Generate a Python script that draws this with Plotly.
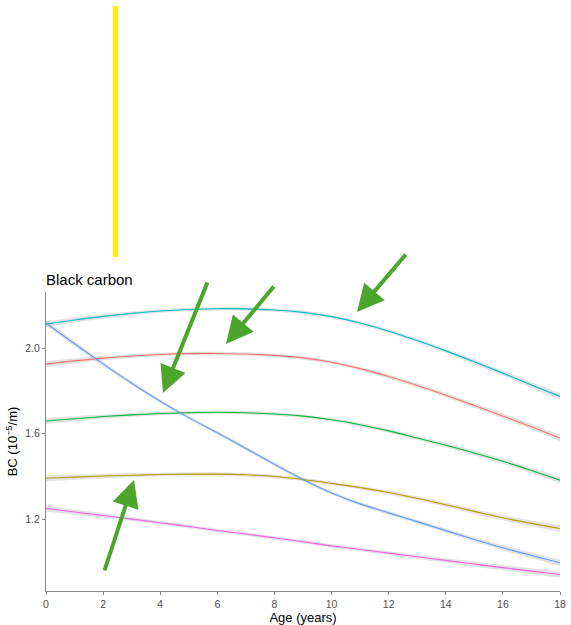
import plotly.graph_objects as go

# ---- data ----
ages = list(range(0, 19))
series_names = ["red", "olive", "green", "cyan", "blue", "pink"]
bc_red = [1.925, 1.940, 1.953, 1.963, 1.970, 1.974, 1.975, 1.972, 1.966, 1.954,
          1.934, 1.904, 1.867, 1.825, 1.780, 1.732, 1.683, 1.632, 1.580]
bc_olive = [1.392, 1.397, 1.402, 1.406, 1.409, 1.411, 1.411, 1.408, 1.400, 1.386,
            1.368, 1.348, 1.325, 1.298, 1.268, 1.237, 1.207, 1.181, 1.157]
bc_green = [1.659, 1.670, 1.680, 1.688, 1.694, 1.698, 1.700, 1.698, 1.692, 1.682,
            1.665, 1.642, 1.613, 1.580, 1.546, 1.510, 1.471, 1.428, 1.383]
bc_cyan = [2.112, 2.131, 2.148, 2.162, 2.173, 2.180, 2.184, 2.183, 2.178, 2.167,
           2.147, 2.117, 2.079, 2.035, 1.987, 1.936, 1.883, 1.828, 1.774]
bc_blue = [2.117, 2.020, 1.926, 1.836, 1.752, 1.675, 1.604, 1.531, 1.457, 1.386,
           1.323, 1.272, 1.230, 1.189, 1.147, 1.106, 1.067, 1.031, 0.997]
bc_pink = [1.251, 1.234, 1.218, 1.201, 1.184, 1.166, 1.148, 1.131, 1.113, 1.095,
           1.076, 1.059, 1.042, 1.025, 1.008, 0.991, 0.974, 0.958, 0.942]
band_halfwidth = [0.014, 0.012, 0.010, 0.009, 0.008, 0.008, 0.008, 0.008, 0.008, 0.008,
                  0.008, 0.008, 0.009, 0.009, 0.010, 0.011, 0.012, 0.013, 0.015]
x_ticks = [0, 2, 4, 6, 8, 10, 12, 14, 16, 18]
y_ticks = [1.2, 1.6, 2.0]
y_tick_labels = ["1.2", "1.6", "2.0"]

colors = ["#F8766D", "#B79F00", "#00BA38", "#00BFC4", "#619CFF", "#F564E3"]
all_series = [bc_red, bc_olive, bc_green, bc_cyan, bc_blue, bc_pink]

W, H = 571, 625
L, R, T, B = 46, 11, 292, 34
PW, PH = W - L - R, H - T - B


def px2paper(px, py):
    return (px - L) / PW, (H - B - py) / PH


fig = go.Figure()
for name, vals, col in zip(series_names, all_series, colors):
    upper = [v + h for v, h in zip(vals, band_halfwidth)]
    lower = [v - h for v, h in zip(vals, band_halfwidth)]
    fig.add_trace(go.Scatter(x=ages, y=upper, mode="lines", line=dict(width=0, shape="spline"),
                             showlegend=False, hoverinfo="skip"))
    fig.add_trace(go.Scatter(x=ages, y=lower, mode="lines", line=dict(width=0, shape="spline"),
                             fill="tonexty", fillcolor="rgba(190,190,190,0.45)",
                             showlegend=False, hoverinfo="skip"))
for name, vals, col in zip(series_names, all_series, colors):
    fig.add_trace(go.Scatter(x=ages, y=vals, mode="lines", name=name,
                             line=dict(color=col, width=1.1, shape="spline"),
                             showlegend=False))

# overlay decorations (yellow bar, green arrows)
shapes = []
x0, y0 = px2paper(113, 6)
x1, y1 = px2paper(118, 257)
shapes.append(dict(type="rect", xref="paper", yref="paper", x0=x0, x1=x1, y0=y1, y1=y0,
                   fillcolor="#FFF200", line=dict(width=0), layer="above"))

arrows = [((208, 281), (163, 393)), ((275, 285), (226, 344)),
          ((407, 253), (357, 312)), ((104, 572), (134, 480))]
annotations = []
for (tx, ty), (hx, hy) in arrows:
    ax_, ay_ = px2paper(hx, hy)
    annotations.append(dict(xref="paper", yref="paper", x=ax_, y=ay_,
                            ax=tx - hx, ay=ty - hy, axref="pixel", ayref="pixel",
                            showarrow=True, arrowhead=2, arrowsize=1.35, arrowwidth=4,
                            arrowcolor="#4DA52E", text=""))

annotations.append(dict(xref="paper", yref="paper", x=0, y=1.0, xanchor="left", yanchor="bottom",
                        xshift=-2, yshift=2, text="Black carbon", showarrow=False,
                        font=dict(size=15, color="black")))

fig.update_layout(
    width=W, height=H,
    margin=dict(l=L, r=R, t=T, b=B, pad=0, autoexpand=False),
    plot_bgcolor="white", paper_bgcolor="white",
    font=dict(family="Arial, Liberation Sans, sans-serif"),
    shapes=shapes, annotations=annotations,
    xaxis=dict(range=[0, 18], tickvals=x_ticks, showgrid=False, zeroline=False, automargin=False,
               showline=True, linecolor="#8a8a8a", linewidth=1.2, ticks="outside", ticklen=3,
               tickcolor="#8a8a8a", tickfont=dict(size=10.5, color="#4D4D4D"),
               title=dict(text="Age (years)", font=dict(size=13, color="black"), standoff=2)),
    yaxis=dict(range=[0.865, 2.262], tickvals=y_ticks, ticktext=y_tick_labels, showgrid=False,
               automargin=False,
               zeroline=False, showline=True, linecolor="#8a8a8a", linewidth=1.2, ticks="outside",
               ticklen=3, tickcolor="#8a8a8a", tickfont=dict(size=10.5, color="#4D4D4D"),
               title=dict(text="BC (10<sup>\u22125</sup>/m)", font=dict(size=13, color="black"),
                          standoff=4)),
)

fig.write_html("out.html")
